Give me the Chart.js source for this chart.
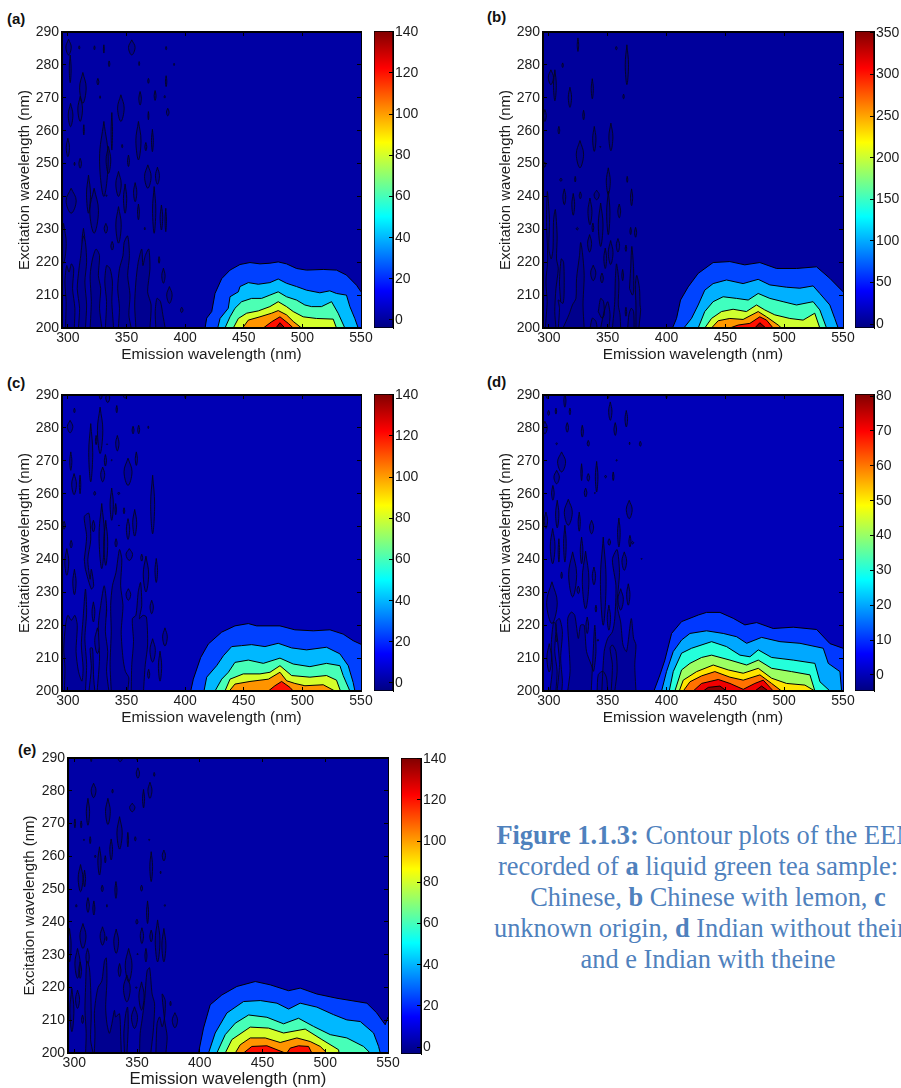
<!DOCTYPE html>
<html>
<head>
<meta charset="utf-8">
<title>Contour plots of the EEM</title>
<script src="https://cdn.jsdelivr.net/npm/chart.js@4/dist/chart.umd.js"></script>
<style>
html,body{margin:0;padding:0;background:#fff;width:901px;height:1088px;overflow:hidden}
canvas{position:absolute;display:block;filter:blur(0.35px)}
.tag{position:absolute;font:bold 15px "Liberation Sans",Arial,sans-serif;color:#111;line-height:18px}
#caption{position:absolute;left:468px;top:820px;width:480px;text-align:center;font:26.4px/31px "Liberation Serif","Times New Roman",serif;color:#4f81bd;white-space:nowrap}
#caption .shift{position:relative;left:-10px}
</style>
</head>
<body>
<div class="tag" style="left:7px;top:10px">(a)</div>
<div class="tag" style="left:487px;top:8px">(b)</div>
<div class="tag" style="left:7px;top:374px">(c)</div>
<div class="tag" style="left:487px;top:373px">(d)</div>
<div class="tag" style="left:18px;top:741px">(e)</div>
<div id="caption"><b>Figure 1.1.3:</b> Contour plots of the EEM<br><span class="shift">recorded of <b>a</b> liquid green tea sample:</span><br>Chinese, <b>b</b> Chinese with lemon, <b>c</b><br>unknown origin, <b>d</b> Indian without theine<br>and e Indian with theine</div>
<script>
// ---------- axis values ----------
const emissionTicks = [300,350,400,450,500,550];
const excitationTicks = [200,210,220,230,240,250,260,270,280,290];
const emissionRange = [295,550];
const excitationRange = [200,290];
const emissionTitle = 'Emission wavelength (nm)';
const excitationTitle = 'Excitation wavelength (nm)';

// ---------- colour bars ----------
const barTicksA = [0,20,40,60,80,100,120,140];
const barTicksB = [0,50,100,150,200,250,300,350];
const barTicksC = [0,20,40,60,80,100,120,140];
const barTicksD = [0,10,20,30,40,50,60,70,80];
const barTicksE = [0,20,40,60,80,100,120,140];
const barRangeA = [-3.9,140.4];
const barRangeB = [-4.8,352.4];
const barRangeC = [-3.9,140.4];
const barRangeD = [-4.6,80.6];
const barRangeE = [-3.4,140.4];
const jetStops = [[0,'#000080'],[0.125,'#0000ff'],[0.375,'#00ffff'],[0.625,'#ffff00'],[0.875,'#ff0000'],[1,'#800000']];

// ---------- contour level colours, lowest level first ----------
const baseColoursA = ['#0000a4','#000090'];
const baseColoursB = ['#00009c','#00008c'];
const baseColoursC = ['#0000b4','#00009c'];
const baseColoursD = ['#0000b8','#00009a'];
const baseColoursE = ['#0000a6','#000090'];
const levelColoursA = ['#0040ff','#00bcff','#4cffb4','#d4ff2b','#ff9400','#ff1000','#8b0000'];
const levelColoursB = ['#0044ff','#00b0ff','#40ffbf','#cfff30','#ff9800','#ff1000','#8b0000'];
const levelColoursC = ['#0040ff','#00b8ff','#47ffb8','#d4ff2b','#ff9400','#ff1000'];
const levelColoursD = ['#0038ff','#00a8ff','#24ffdb','#9cff63','#ffe400','#ff7100','#f00000','#8b0000'];
const levelColoursE = ['#0040ff','#00b8ff','#47ffb8','#d4ff2b','#ff9400','#ff0e00'];

// ---------- contour levels: [emission nm, excitation nm] ----------
const a1 = [[417,200],[418.4,203],[422.7,205],[425.5,210.5],[431.2,215],[438.3,217.6],[446.8,219.3],[455.3,219.9],[463.8,219.5],[472.3,219.7],[479.4,220.1],[486.5,219.5],[495,218.1],[503.6,217.6],[517.8,217.8],[529.1,217.6],[537.6,216.1],[546.2,213],[550,211]];
const a2 = [[427.8,200],[429.8,202.9],[436.8,206],[438.3,209.5],[445.4,211],[446.8,212.6],[453.9,213.8],[462.4,213.3],[472.3,213.8],[479.4,214.9],[486.5,213.6],[495,212.6],[503.6,211.5],[514.9,210.7],[523.4,211.3],[529.1,210.5],[537.6,210],[540.5,206.5],[544.7,202.9],[547.6,200]];
const a3 = [[434,200],[438.3,203.4],[442.5,206],[448.2,208],[456.7,209],[465.2,209],[472.3,210],[479.4,211],[486.5,209.5],[495,208.5],[502.1,207],[507.8,206.5],[516.3,206.5],[524.9,208],[530.5,204.5],[536.2,200]];
const a4 = [[441.1,200],[445.4,202.9],[452.5,204.5],[462.4,205.2],[472.3,206.5],[479.4,208],[486.5,206.5],[492.2,205],[500.7,203.4],[512,202.9],[526.3,202.7],[529.1,200]];
const a5 = [[449,200],[453.9,202.4],[463.8,203.4],[473.8,204.5],[479.4,205.3],[486.5,204],[492.2,202],[499.3,200]];
const a6 = [[466.7,200],[473.8,201.9],[480.9,203.4],[488,201.4],[492.2,200]];
const a7 = [[477.4,200],[480.9,201.6],[485.1,200]];

const b1 = [[405.1,200],[408.5,202.9],[411.9,208.5],[418.4,212.5],[426.9,216.6],[439.6,219.9],[453.8,220.2],[466.5,219.2],[479.3,219.9],[493.5,218.1],[510.5,218.1],[527.5,218.6],[538.8,215.1],[548.7,211.5],[550,211]];
const b2 = [[414.7,200],[421.2,202.9],[426.9,207],[432.5,211.5],[439.6,213.5],[451,214.6],[465.1,213.5],[477.9,214.8],[487.8,213.1],[502,212.4],[513.3,212.1],[524.6,212.8],[530.3,210.5],[538.8,207],[543,202.9],[545.9,200]];
const b3 = [[426.9,200],[432.5,205],[439.6,208],[448.1,209.5],[459.5,209],[469.4,208.5],[477.9,210.5],[487.8,209],[499.1,208],[510.5,207],[524.6,208],[530.3,205.5],[536,200]];
const b4 = [[432.5,200],[438.2,202.9],[446.7,205],[456.6,205.7],[467.9,205],[476.5,207],[483.5,205.5],[492,204],[504.8,202.9],[516.1,202.4],[526,204.5],[530.3,200]];
const b5 = [[438.2,200],[443.9,202.2],[453.8,202.9],[465.1,202.6],[477.9,205],[485,203.4],[494.9,200.9],[497.7,200]];
const b6 = [[453.8,200],[460.9,200.9],[470.8,201.4],[479.3,203.4],[485,202.4],[490.6,200]];
const b7 = [[475,200],[479.3,201.6],[484.4,200]];

const c1 = [[404.8,200],[407,203.6],[413.3,210.2],[419.8,214.3],[431.2,217.9],[442.5,219.8],[453.9,220.5],[461,219.8],[480.9,219.8],[493.6,218.6],[509.3,218.3],[523.5,218.6],[534.8,217.3],[543.3,215.3],[550,214.2]];
const c2 = [[416.1,200],[418.4,204.2],[426.9,207.7],[432.6,210.7],[439.7,213.5],[448.2,213.8],[456.7,214.1],[468.1,213.5],[479.4,214.5],[490.8,213.1],[503.6,212.5],[520.6,213.3],[532,211.3],[539.1,207.7],[543.3,202.6],[544.8,200]];
const c3 = [[425.5,200],[431.2,203.6],[436.9,205.7],[442.5,208.7],[453.9,209.4],[466.7,208.4],[480.9,210],[492.2,208.2],[506.4,207.4],[520.6,208.4],[532,207.7],[534.8,204.7],[540.5,200]];
const c4 = [[434,200],[438.3,203.6],[449.6,205.2],[463.8,205.2],[472.4,205.7],[480.9,207.7],[490.8,204.7],[506.4,204.2],[520.6,204.7],[529.1,203.3],[532.5,200]];
const c5 = [[437.7,200],[442.5,202.1],[455.3,202.9],[471,203.6],[480.9,205.7],[486.6,203.1],[493.6,202.3],[502.2,201.6],[517.8,201.9],[527.7,200]];
const c6 = [[471,200],[476.6,201.6],[482.3,202.9],[489.4,201.1],[492.2,200]];

const d1 = [[389.3,200],[394.4,204.9],[398.6,209.4],[404.3,217.5],[412.8,221.1],[427,223.1],[434,223.9],[445.4,223.9],[456.7,222.1],[466.6,220.1],[476.6,220.8],[490.7,219],[507.7,219.4],[527.6,218.7],[538.9,214.4],[550,213]];
const d2 = [[395.8,200],[400,205.9],[405.7,212],[412.8,215.5],[419.9,217.5],[434,218.3],[448.2,217.5],[459.6,216.5],[468.1,214.5],[480.8,216.3],[496.4,215],[513.4,214.5],[533.2,213],[537.5,208.4],[547.4,205.9],[548.8,200]];
const d3 = [[402.3,200],[405.7,205.9],[412.8,211.5],[421.3,213],[438.3,215],[451,213.5],[462.4,210.9],[470.9,210.4],[478,212.5],[489.3,210.2],[507.7,209.4],[526.1,208.4],[530.4,202.8],[538.9,200]];
const d4 = [[407.1,200],[412.8,206.4],[419.9,208.4],[429.8,210.2],[438.3,210.9],[453.9,209.4],[468.1,207.9],[478,209.4],[489.3,206.9],[506.3,205.9],[521.9,204.9],[526.1,200]];
const d5 = [[410.8,200],[414.2,203.3],[425.6,205.9],[439.7,207.9],[452.5,206.4],[465.2,205.4],[478,206.9],[489.3,203.9],[502,202.3],[517.6,201.8],[526.1,200]];
const d6 = [[414.2,200],[419.9,202.8],[429.8,204.6],[441.1,205.9],[453.9,204.2],[465.2,203.3],[479.4,204.9],[489.3,202.3],[497.8,200]];
const d7 = [[422.7,200],[429.8,202.3],[444,203.5],[453.9,202.3],[465.2,200.5],[475.1,202.3],[482.2,203.3],[487.9,201.1],[490.7,200]];
const d8 = [[431.2,200],[435.5,201.1],[445.4,201.5],[451,200],[475.1,200],[480.8,201.5],[486.5,200]];

const e1 = [[399,200],[403,207.6],[408.3,214.7],[417.6,217.7],[429.6,220.3],[444.2,221.8],[456.1,220.8],[470.8,219],[480,219.8],[493.3,218],[509.3,216.7],[533.2,215.2],[541.1,212.2],[547.8,208.6],[550,211]];
const e2 = [[407,200],[412.3,206.1],[421.6,212.2],[434.9,215.7],[448.2,216],[461.5,215.2],[470.8,213.4],[480,215.2],[493.3,214],[506.6,211.7],[517.2,210.1],[527.9,209.6],[538.5,206.1],[542.5,202],[543.8,200]];
const e3 = [[413.6,200],[420.3,205.6],[428.3,209.1],[438.9,211.6],[453.5,210.9],[466.8,208.9],[478.7,210.6],[490.7,208.1],[504,205.6],[517.2,204.6],[530.5,202],[535.8,200]];
const e4 = [[420.3,200],[425.6,204.1],[440.2,207.9],[454.8,207.6],[466.8,206.1],[484,207.3],[497.3,204.1],[510.6,201],[511,200]];
const e5 = [[428.3,200],[432.2,202.5],[440.2,204.6],[452.2,204.6],[464.1,203.2],[477.4,204.6],[488,203.5],[496,202],[501.3,200]];
const e6 = [[434.9,200],[441.5,202],[453.5,202.2],[466.8,200.2],[469.4,200],[472.1,201.5],[478.7,202.2],[486.7,202],[489.3,200]];

// ---------- small noise islands: [emission, excitation low, excitation high, half width] ----------
const noiseA = [[300.6,283,287.8,2.3],[302,274.6,283,.8],[309.7,284.8,285.8,.5],[322.7,284.6,285.8,.5],[330.7,283.6,286.1,.4],[354.5,283,287.6,2.8],[383.8,284.6,285.6,.5],[335.2,279.5,281.2,.6],[360.8,279.8,281,.4],[390.6,279.8,280.5,.4],[312.8,268.3,277.7,2.8],[325.6,273.9,275.9,.8],[368.7,274.4,275.9,.6],[383.8,273.4,276.7,.6],[310.5,262.8,270.4,2],[361.6,267.8,271.9,1.1],[374.4,269.2,272.2,.8],[382.6,269.9,270.7,.5],[327.5,269.8,270.6,.4],[302.3,261.2,268.3,2],[345.2,262.8,270.9,2.8],[385.2,264.5,266.8,1.1],[368.7,263.3,265.8,.4],[337.5,254.1,265.5,.6],[313.6,258.7,261.8,.4],[300,252.1,257.7,1.4],[360.2,251.1,262.8,2.2],[330.7,240,262.8,3.7],[366.5,253.9,256.4,.8],[372.1,253.6,260.4,.8],[346.3,254.8,255.8,.5],[310.5,248.6,251.6,1.1],[305.7,249.4,250.4,.4],[351.7,249.1,252.6,.8],[334.6,247,255.2,2],[368.2,242.5,249.6,2.8],[376.4,243.7,248.9,1.7],[343.2,240,247.6,2.3],[317.6,234.9,246.5,1.7],[302.8,234.9,242.5,4.3],[332.9,240,240.5,.4],[348.8,234.9,243.8,1.4],[357.4,238.4,244.2,1.4],[322.4,228.8,242.5,3.7],[373.6,228.8,243,1.4],[360.2,232.9,237.7,.8],[379.8,229.8,237.4,1.1],[383.5,229.3,236.4,.6],[332.4,228.8,231.8,1.4],[365.6,229.8,230.6,.4],[296.3,219.7,231.8,2.3],[313.3,223.7,230.3,1.1],[343.2,225.8,236.9,2.3],[337.8,223.7,226.3,1.1],[377.8,219.7,221.7,.6],[381.5,213.6,218.2,1.4],[386.6,207.5,212.6,2.3],[397.1,204.7,206.3,1.1]];
const noiseB = [[324.7,284.1,288.2,.6],[357.3,284.6,285.6,.7],[366.3,274,286.1,1.4],[311.7,279.2,280.6,.6],[301.7,274,278.5,2.2],[305.1,269.1,278.5,1.2],[336.9,269.7,275.8,.9],[317.9,267.1,273.2,1.4],[363.5,269.7,271.1,.6],[296.6,262.8,266.4,1.2],[329.5,263.3,266.2,.7],[308.5,259,261.3,.7],[338.6,253.7,261.3,1.4],[352.7,253.9,262.3,1.7],[343.7,254.9,255.3,.4],[326.4,248.7,257,3.1],[296.4,248.9,250.5,.9],[350.5,240.6,248.7,1.7],[310.2,244.6,245.6,.9],[322.4,244.4,246.1,.5],[366.6,244.3,246.1,.5],[313.1,237.5,242.3,1.2],[326.7,239.3,241.4,.9],[320.7,234.3,240.9,1.2],[340.6,239,241.9,2.2],[370.3,237.2,242.3,.9],[334.9,231.4,239.5,1.7],[344,224.8,238,2],[350.5,228.4,241.6,1.4],[359.8,233.5,237.7,1.2],[324.1,229.8,230.6,.9],[337.4,229.2,231.9,.7],[369.5,228.4,230.6,.6],[373.7,227.6,230.6,.9],[334.6,223.1,228.4,1.7],[358.7,223.1,227.2,1.4],[352.5,219.3,226.6,2],[347.9,218.1,224.3,1.2],[365.5,223.3,225.2,.6],[337.7,214.4,219.1,2.2],[345.1,213.7,216.7,1.2],[362.7,214.4,217.8,.7],[365.5,203.6,206.3,.6]];
const noiseC = [[305.6,284.6,286,.6],[341.7,284.6,286.8,.6],[301.9,278.5,282.3,2.3],[327.5,272.2,286.3,2.3],[319.5,263.6,281.3,1.7],[324.1,274.9,277.7,.6],[333.4,274.9,275.2,.4],[342.2,273,277.7,1.4],[355.6,278.2,280.5,.8],[360.4,278.2,280.8,.8],[368.6,279.8,280.6,.4],[302.5,267.1,272.7,.9],[332,268.4,271.9,.9],[358.4,268.6,272.7,.9],[337.4,270,270.4,.4],[329.7,263.6,268.1,1.7],[351.3,262.5,270.8,3.4],[305.3,259.7,266.1,2],[310.4,260,265.6,.6],[322.9,259.5,260.7,.8],[343.4,259.7,260.5,.8],[372.3,247.8,265.6,1.7],[337.4,251.9,261.7,1.4],[340.8,253.6,257,.6],[347.9,253.9,255.7,.6],[328.9,237.2,257,2.3],[357,247.1,255.2,1.7],[321.8,248.4,251.9,1.2],[343.6,250.2,250.5,.4],[351.3,246.1,252.4,1.4],[296.8,249.2,251.6,1],[332.3,238.2,251.9,1.7],[302.8,243.5,245.8,.9],[341.1,243.8,246.3,.9],[352.4,239.7,243.3,2.8],[363,239.5,241.6,.8],[299.1,235.2,243.3,1.7],[366.6,230.1,241,2.3],[375.4,233,240.3,1.1],[305.6,229.3,237,1.4],[351.6,227.6,231.1,2],[371.5,223.5,227.6,1.4],[331.7,222,227.3,1.4],[321.8,221,227.1,1.2],[382.8,213.7,219.2,2],[325.2,211.4,219.2,2.3],[372.3,208.8,215.9,2.3],[378.6,203,212.1,1.4],[368.9,203.8,206.6,.9],[334,287.7,290.5,1.7],[328,288.7,290.5,1.1],[348.8,289,290.5,1.4],[400.1,289,290.5,.6]];
const noiseD = [[313.6,286.3,290.5,.9],[299.8,283.8,285.3,.8],[306,284.2,286,.6],[317.9,284,286,.6],[352.2,282.3,287.9,1.4],[365.8,280.3,285.3,1.1],[296.6,278.2,282,2],[315.6,278.7,281.6,1.1],[328.4,277.2,280.8,.9],[356.4,277.7,281.6,1.1],[306.6,274.9,275.5,.6],[333.5,274.4,276.2,.9],[368.6,274.9,275.7,.3],[377.7,274.4,275.9,.8],[357.6,269.9,270.4,.5],[310.8,266.6,272.7,3.4],[306.6,263,267.1,2.3],[327.8,264,269.1,.6],[333.5,263.8,266.1,1.1],[340.6,260.5,269.8,1.1],[348.2,264.8,265.6,.8],[354.7,264,266.6,.6],[331.2,259,261.7,1.1],[303.4,258,262.5,1.1],[339.1,260,260.4,.4],[368.3,252.4,258,2.5],[307.1,249.6,258,1.4],[316.5,250.4,258.3,3.4],[297.5,249.4,254.4,1.4],[325.8,248.6,254.4,.9],[336.3,247.8,251.9,1.7],[359.5,243.8,252.6,1.1],[351.3,244.3,246.3,1.1],[368.9,243.8,247.3,.9],[371.2,244.7,245.5,.9],[303.2,238.7,249.4,2],[308.5,239.2,246.3,.6],[313.6,239.2,250.4,1.1],[327.8,238.7,246.8,1.1],[320.2,228.6,242.3,3.4],[310.8,234.2,236.2,.6],[331.2,225,242.5,2.8],[338.3,232.3,237.7,1.4],[325,229.6,231.9,1.1],[364.1,236.7,242.3,2],[346.2,220,246.8,2.4],[302.6,220.5,233.2,4.5],[367.5,226.1,232.6,1.4],[361,224.6,231.1,2.3],[378.8,240,240.4,.4],[351,218.5,226.1,1.4],[340,224,226.1,.6],[332.6,217.5,222.5,1.1],[306.6,214.9,217.5,.6],[341.7,215.1,215.7,.5],[300.3,205.8,214.4,2],[350.5,289,290.5,.6],[400,289,290.5,.6],[298.6,288.9,290.5,.9]];
const noiseE = [[350.7,283.8,287,1.3],[363.7,284.4,285.6,.5],[315.4,277.9,282.3,1.9],[330.5,279.3,280.5,.5],[360.3,277.7,282.6,1.6],[355.2,274.8,280.4,.8],[346.2,273.6,276.2,2.1],[310.9,269.5,277.7,1.3],[326.8,269.7,277.7,1.9],[300.5,268.7,271.4,.5],[305.5,268.7,270.8,.5],[336.1,262.2,272.1,2.1],[342.7,262.9,267.3,.5],[307.7,264.8,265.3,.3],[312.7,263.9,266,.5],[348.6,264.7,266,.6],[359.7,264.8,265.3,.4],[329.4,258.9,265.3,1.1],[371.4,258.6,261.9,1.3],[316.7,259.6,260.4,.5],[320.1,254.3,262.9,1.3],[324.7,258,260.2,.5],[361.3,252.3,261.4,1.1],[368.8,254.7,255.5,.3],[305,249.2,257.5,1.9],[308.2,250.7,255.8,.8],[322.3,249.2,251.2,.8],[333.2,247.2,252.3,.8],[353.6,249.4,251.2,.8],[310.9,242.9,247.4,1.1],[315.6,242.1,246.4,.8],[301.6,244.5,245.3,.5],[326,244.5,245.3,.3],[358.4,239.5,246.4,.8],[372.2,244.7,245.3,.5],[349.9,239.3,240.8,.8],[296.2,227.8,238,1.3],[306.9,231.9,239.5,2.4],[322.5,232.9,238.5,1.9],[325.7,234.3,235.5,.3],[333.4,230.4,237.8,1.9],[353.9,233.4,238.2,1.3],[361.3,233.9,237.5,1.1],[366.4,227.8,240.6,1.9],[371.4,227.8,238,1.6],[350.4,229.9,230.4,.3],[302.6,222.8,231.9,2.1],[310.6,226.8,231.9,1.3],[304.7,222.8,227.8,1.1],[357.1,227.8,231.9,.8],[343.3,221.7,231.9,2.7],[336.1,223.3,227.3,1.1],[341.9,215.6,223.8,2.7],[349.4,219.7,220.2,.5],[353.6,213.1,221.7,2.1],[302.6,213.6,219.2,1.6],[298.1,206.5,219.7,1.6],[376.7,214.4,215.8,.5],[306.6,209,211.6,.8],[380.2,207.7,212.3,2.1],[348,207.5,214.1,2.4],[326.5,204.7,205.2,.3],[368,199,201.9,.8],[336.6,288.9,290.5,1.6],[313.5,288.9,290.5,.5],[349.9,289.4,290.5,.5]];

// ---------- winding noise contours in the lower left: [emission, excitation] ----------
const windA = [
 [[298,200],[298.5,208],[297.5,214],[299,219],[301,217],[303,219.5],[305,218],[304,212],[306,206],[305.5,200]],
 [[309,200],[310,206],[308,212],[309.5,218],[311,222],[313,228],[315,226],[316,220],[314.5,214],[316,207],[315,200]],
 [[319,200],[320,208],[319,216],[321,221],[324,224],[327,222],[326,216],[328,212],[327,206],[329,200]],
 [[332,200],[333,208],[331.5,214],[333,219],[336,218],[338,214],[337.5,208],[339,200]],
 [[343,200],[344,206],[342.5,212],[344,218],[347,222],[348,226],[351,228],[352.5,222],[351,216],[353,210],[352,204],[354,200]],
 [[358,200],[357,207],[358,214],[360,220],[363,224],[364,219],[366,222],[369,224],[370,218],[368,211],[371,207],[370,200]],
 [[375,200],[374.5,205],[376,209],[379,208],[381,204],[383,200]]
];
const windB = [
 [[297,200],[298.5,208],[297.5,214],[299,221],[298,232],[298.7,241.5],[300.5,233],[300,224],[302,221],[303.5,224],[304,233],[305.5,236],[307,228],[306.5,221],[308,218],[306,212],[305,205],[306,200]],
 [[308,200],[309,206],[308,208.5],[312,207.5],[313,212],[312.5,220],[310.5,221],[309,214],[310,208]],
 [[312,200],[317,204],[320,207],[323,209],[323.5,215],[326,222],[327,226],[328.5,223],[330,216],[329,207],[330,200]],
 [[354,200],[356,208],[356.5,215],[357.5,219.5],[359.5,214],[359,207],[360.5,204],[361,200]],
 [[367,200],[368,204],[370,206],[372,205],[372.5,200]],
 [[374,200],[374,207],[373.5,213],[374.7,216],[377,212],[377.5,207],[378,205.5],[376.5,200]],
 [[344,200],[347,205],[350,208],[352,204],[351,200]],
 [[335,200],[337,203],[340,202],[341,200]],
 [[342,205],[344,209],[346.5,208],[347,204],[345,203],[342,205]],
 [[368.5,212],[369.5,218],[370.5,224.8],[372,218],[372,211],[371,210],[368.5,212]]
];
const windC = [
 [[297,200],[297.5,207],[296.5,213],[298,220],[300,223],[303,221.5],[306,223],[308,220],[307,212],[309,206],[312,203],[313,207],[311.5,214],[313,222],[315,231],[316,224],[314.5,216],[316,208],[315,200]],
 [[318,200],[320,207],[319,213],[321,213],[322,204],[323,200]],
 [[325,200],[327,210],[326,220],[328,226],[331,232],[333,226],[332,218],[334,212],[333,206],[335,200]],
 [[337,200],[336,208],[337,218],[336.5,226],[338,232],[341,236],[344,243],[346,240],[345,232],[347,226],[345.5,218],[347,210],[349,206],[352,204],[351,200]],
 [[354,200],[354.5,208],[356,215],[355,222],[358,223],[360,230],[362,233],[363,226],[361,222],[364,223],[367,222.5],[368,214],[366,208],[364.5,200]],
 [[314,240],[316,247],[314,253],[318,254],[319.5,246],[317,240],[319,234],[320,237],[322,232],[320,231],[315,237],[314,240]]
];
const windD = [
 [[301,200],[303,207],[302,214],[304,221],[306,220],[305,212],[307,206],[306,200]],
 [[307,200],[309,208],[307.5,215],[306,221],[309,222],[311.5,218],[310,210],[311.5,203],[311,200]],
 [[316,200],[318,206],[317,214],[316,222],[319,224],[322,223],[325,216],[327,220],[330,220],[332,212],[336,208],[338,206],[340,212],[339,220],[337,207],[336,200]],
 [[341,200],[342,205],[346,206],[349,204],[350,200]],
 [[345,200],[347,212],[350,216],[354,218],[356,222],[357,232],[354,240],[358,243],[360,236],[358,226],[361,221],[363,214],[366,212],[370,222],[372,216],[374,214],[373,208],[374,200]],
 [[353,200],[354,208],[352,213],[354,214],[357,212],[358,206],[356,200]]
];
const windE = [
 [[309,200],[309.5,206],[308.5,213],[309,220],[310,228],[312,226],[313,220],[313.5,211],[313,204],[315,200]],
 [[316,200],[316.5,206],[316,212],[317,216],[319,220],[322,222],[324,228],[325.5,229],[326,222],[325,214],[326,209],[328,206],[330,209],[332,213],[333,211],[336,212],[337,205],[337.5,200]],
 [[340,200],[339.5,206],[341,212],[342.5,214],[343,208],[342,200]],
 [[352,200],[352.5,206],[354,210],[356,216],[358,225],[360,226],[362,218],[364,215],[363,207],[361,200]],
 [[365,200],[366,209],[368,211],[370,208],[372,211],[372.5,216],[370,218],[372,210],[374,205],[373,200]]
];

// ---------- page layout of each panel ----------
const panels = [
  {frame:{left:62,top:32,w:299,h:296,barLeft:374,barW:19,barTop:31,barH:297,titleGap:16,xTitleSize:15.4},levels:[a1,a2,a3,a4,a5,a6,a7],colours:levelColoursA,base:baseColoursA,noise:noiseA,wind:windA,barTicks:barTicksA,barRange:barRangeA},
  {frame:{left:543,top:32,w:300,h:296,barLeft:855,barW:19,barTop:31,barH:297,titleGap:16,xTitleSize:15.4},levels:[b1,b2,b3,b4,b5,b6,b7],colours:levelColoursB,base:baseColoursB,noise:noiseB,wind:windB,barTicks:barTicksB,barRange:barRangeB},
  {frame:{left:62,top:395,w:299,h:296,barLeft:374,barW:19,barTop:394,barH:297,titleGap:16,xTitleSize:15.4},levels:[c1,c2,c3,c4,c5,c6],colours:levelColoursC,base:baseColoursC,noise:noiseC,wind:windC,barTicks:barTicksC,barRange:barRangeC},
  {frame:{left:543,top:395,w:300,h:296,barLeft:855,barW:19,barTop:394,barH:297,titleGap:16,xTitleSize:15.4},levels:[d1,d2,d3,d4,d5,d6,d7,d8],colours:levelColoursD,base:baseColoursD,noise:noiseD,wind:windD,barTicks:barTicksD,barRange:barRangeD},
  {frame:{left:68,top:758,w:320,h:295,barLeft:401,barW:20,barTop:758,barH:296,titleGap:15,xTitleSize:16.8},levels:[e1,e2,e3,e4,e5,e6],colours:levelColoursE,base:baseColoursE,noise:noiseE,wind:windE,barTicks:barTicksE,barRange:barRangeE}
];

const FONT = '"Liberation Sans",Arial,sans-serif';
const INK = '#1c1c1c';
const AXIS_W = 62, AXIS_H = 36, PAD_TOP = 12, PAD_RIGHT = 16;

// Fills the closed noise outlines through the line element's own path.
Chart.register({
  id:'closedOutlineFill',
  beforeDatasetDraw(chart,args){
    const ds = chart.data.datasets[args.index];
    if(!ds.outlineFill) return;
    const a = chart.chartArea, c = chart.ctx, line = args.meta.dataset;
    line.updateControlPoints(a);
    c.save();
    c.beginPath();c.rect(a.left,a.top,a.width,a.height);c.clip();
    c.beginPath();line.path(c);c.fillStyle = ds.outlineFill;c.fill();
    c.restore();
  }
});

const toPoints = arr => arr.map(([x,y]) => ({x,y}));
const outlines = blobs => blobs.flatMap(([em,lo,hi,w]) => {
  const mid = (lo+hi)/2;
  return [{x:em,y:hi},{x:em+w,y:mid},{x:em,y:lo},{x:em-w,y:mid},{x:em,y:hi},{x:NaN,y:NaN}];
});
const windings = lines => lines.flatMap(l => [...toPoints(l),{x:NaN,y:NaN}]);
const addCanvas = (left,top,w,h) => {
  const cv = document.createElement('canvas');
  cv.width = w; cv.height = h;
  cv.style.cssText = `left:${left}px;top:${top}px;width:${w}px;height:${h}px`;
  document.body.appendChild(cv);
  return cv.getContext('2d');
};
const setTicks = vals => s => { s.ticks = vals.map(value => ({value})); };
// Fixed axis size, and no extra room for labels: the frame must sit where the reference has it.
const fixSize = (prop,size) => s => { s[prop] = size; s.paddingLeft = s.paddingRight = s.paddingTop = s.paddingBottom = 0; };
const tickGrid = {drawOnChartArea:false,color:'#000',tickLength:-4,tickWidth:1,z:1};

panels.forEach(p => {
  const f = p.frame;
  const ctx = addCanvas(f.left-AXIS_W,f.top-PAD_TOP,AXIS_W+f.w+PAD_RIGHT,PAD_TOP+f.h+AXIS_H);
  const top = [[emissionRange[0],excitationRange[1]],[emissionRange[1],excitationRange[1]]];
  const noiseLine = {showLine:true,fill:false,outlineFill:p.base[1],borderColor:'#06061f',borderWidth:0.9,pointRadius:0};
  const datasets = [{label:'base',data:toPoints(top),showLine:true,fill:'start',backgroundColor:p.base[0],borderWidth:0,pointRadius:0,order:100}];
  datasets.push({...noiseLine,label:'noise islands',data:outlines(p.noise),tension:0.4,order:99});
  datasets.push({...noiseLine,label:'noise windings',data:windings(p.wind),tension:0.25,order:98});
  p.levels.forEach((lv,i) => datasets.push({label:'level '+(i+1),data:toPoints(lv),showLine:true,fill:'start',backgroundColor:p.colours[i],borderColor:'#000',borderWidth:1,pointRadius:0,order:50-i}));
  new Chart(ctx,{type:'scatter',data:{datasets},options:{
    responsive:false,animation:false,devicePixelRatio:1,
    layout:{autoPadding:false,padding:{top:PAD_TOP,right:PAD_RIGHT,left:0,bottom:0}},
    plugins:{legend:{display:false},tooltip:{enabled:false}},
    scales:{
      x:{type:'linear',position:'bottom',min:emissionRange[0],max:emissionRange[1],
        afterBuildTicks:setTicks(emissionTicks),afterFit:fixSize('height',AXIS_H),
        grid:tickGrid,border:{color:'#000',width:2,z:1},
        ticks:{color:INK,font:{family:FONT,size:14},padding:6,maxRotation:0,autoSkip:false},
        title:{display:true,text:emissionTitle,color:INK,font:{family:FONT,size:f.xTitleSize},padding:{top:0,bottom:0}}},
      y:{type:'linear',position:'left',min:excitationRange[0],max:excitationRange[1],
        afterBuildTicks:setTicks(excitationTicks),afterFit:fixSize('width',AXIS_W),
        grid:tickGrid,border:{color:'#000',width:2,z:1},
        ticks:{color:INK,font:{family:FONT,size:14},padding:7,autoSkip:false},
        title:{display:true,text:excitationTitle,color:INK,font:{family:FONT,size:15},padding:{top:f.titleGap,bottom:0}}},
      x2:{type:'linear',axis:'x',position:'top',min:emissionRange[0],max:emissionRange[1],
        afterBuildTicks:setTicks(emissionTicks),afterFit:fixSize('height',0),
        grid:tickGrid,border:{color:'#000',width:2,z:1},ticks:{display:false}},
      y2:{type:'linear',axis:'y',position:'right',min:excitationRange[0],max:excitationRange[1],
        afterBuildTicks:setTicks(excitationTicks),afterFit:fixSize('width',0),
        grid:tickGrid,border:{color:'#000',width:1,z:1},ticks:{display:false}}
    }
  }});

  // colour bar
  const barCtx = addCanvas(f.barLeft,f.barTop-PAD_TOP,f.barW+34,f.barH+2*PAD_TOP);
  new Chart(barCtx,{type:'bar',data:{labels:['colour'],datasets:[{
    data:[p.barRange],barPercentage:1,categoryPercentage:1,borderColor:'#000',borderWidth:1,borderSkipped:false,
    backgroundColor:c=>{
      const a = c.chart.chartArea; if(!a) return '#000080';
      const g = c.chart.ctx.createLinearGradient(0,a.bottom,0,a.top);
      jetStops.forEach(([t,col])=>g.addColorStop(t,col));
      return g;
    }
  }]},options:{
    responsive:false,animation:false,devicePixelRatio:1,
    layout:{autoPadding:false,padding:{top:PAD_TOP,bottom:PAD_TOP,left:0,right:0}},
    plugins:{legend:{display:false},tooltip:{enabled:false}},
    scales:{
      x:{display:false},
      y:{position:'right',min:p.barRange[0],max:p.barRange[1],
        afterBuildTicks:setTicks(p.barTicks),afterFit:fixSize('width',34),
        grid:tickGrid,border:{color:'#000',width:1,z:1},
        ticks:{color:INK,font:{family:FONT,size:14},padding:6,autoSkip:false}}
    }
  }});
});
</script>
</body>
</html>
